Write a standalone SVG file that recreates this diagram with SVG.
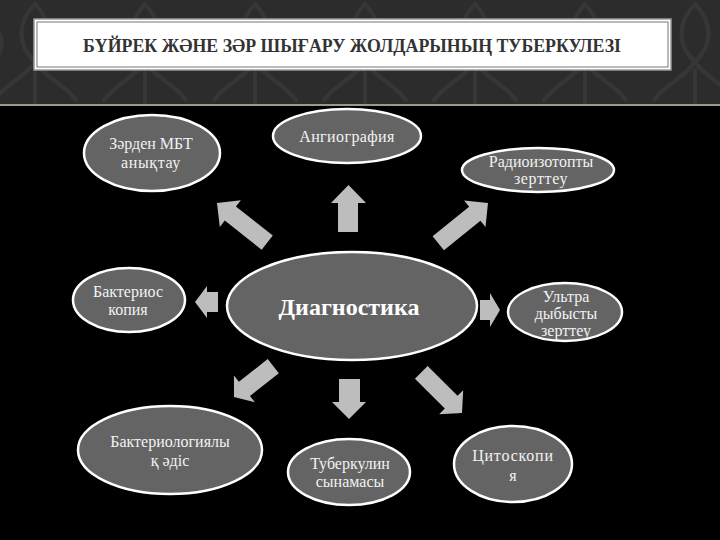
<svg xmlns="http://www.w3.org/2000/svg" width="720" height="540" viewBox="0 0 720 540">
<defs>
<pattern id="damask" x="-20" y="0" width="110" height="104" patternUnits="userSpaceOnUse">
<rect width="110" height="104" fill="#2c2c2c"/>
<path d="M55 4 C38 22 36 44 55 62 C74 44 72 22 55 4 Z M55 62 C44 78 26 84 14 100 M55 62 C66 78 84 84 96 100 M12 24 C26 36 26 54 6 64 M98 24 C84 36 84 54 104 64 M55 70 L55 104" fill="none" stroke="#363636" stroke-width="4" stroke-linecap="round"/>
</pattern>
<polygon id="arr" points="0,0 -17,-17 -17,-9 -64,-9 -64,9 -17,9 -17,17"/>
</defs>
<style>
.node ellipse{fill:#646464;stroke:#ffffff;stroke-width:2.5}
.node text{font-family:"Liberation Serif","DejaVu Serif",serif;font-size:16px;fill:#f2f2f2;text-anchor:middle}
.conn polygon,.conn use{fill:#bdbdbd}
</style>
<rect width="720" height="540" fill="#000"/>
<rect width="720" height="105" fill="url(#damask)"/>
<rect x="0" y="104" width="720" height="2" fill="#9a9a8c"/>
<g id="title">
<rect x="34" y="19" width="637" height="51" fill="#fff" stroke="#9a9a9a" stroke-width="1.5"/>
<rect x="37" y="22" width="631" height="45" fill="none" stroke="#777" stroke-width="1"/>
<text x="352" y="52" font-family="Liberation Serif, DejaVu Serif, serif" font-size="19" font-weight="bold" fill="#333" text-anchor="middle" textLength="538" lengthAdjust="spacingAndGlyphs">БҮЙРЕК ЖӘНЕ ЗӘР ШЫҒАРУ ЖОЛДАРЫНЫҢ ТУБЕРКУЛЕЗІ</text>
</g>
<g id="connectors" class="conn">
<polygon points="338,232 358,232 358,203 366,203 348.5,185 331,203 338,203"/>
<polygon points="339,379 360,379 360,402 366,402 349,419 332,402 339,402"/>
<polygon points="218,292 207,292 207,286 195,302 207,318 207,312 218,312"/>
<polygon points="480,300 490,300 490,293 500,310 490,327 490,320 480,320"/>
<use href="#arr" transform="translate(217,203) rotate(218.3)"/>
<use href="#arr" transform="translate(488,203) rotate(-39)"/>
<use href="#arr" transform="translate(234,397) rotate(141.9) scale(0.78,1)"/>
<use href="#arr" transform="translate(462,413) rotate(45) scale(0.9,1)"/>
</g>
<g id="n-diag" class="node">
<ellipse cx="352" cy="306" rx="125" ry="54"/>
<text x="349" y="315" style="font-size:24px;font-weight:bold;fill:#fff">Диагностика</text>
</g>
<g id="n-zarden" class="node">
<ellipse cx="152" cy="153" rx="68" ry="38"/>
<text x="151" y="149">Зәрден МБТ</text>
<text x="151" y="168" letter-spacing="0.6">анықтау</text>
</g>
<g id="n-angio" class="node">
<ellipse cx="347" cy="136" rx="74" ry="27"/>
<text x="347" y="142" letter-spacing="0.4">Ангиография</text>
</g>
<g id="n-radio" class="node">
<ellipse cx="538" cy="170" rx="76" ry="22"/>
<text x="541" y="167">Радиоизотопты</text>
<text x="541" y="184" letter-spacing="0.6">зерттеу</text>
</g>
<g id="n-ultra" class="node">
<ellipse cx="565" cy="312" rx="57" ry="29"/>
<text x="566" y="302">Ультра</text>
<text x="566" y="319">дыбысты</text>
<text x="566" y="336">зерттеу</text>
</g>
<g id="n-bakterioskop" class="node">
<ellipse cx="129" cy="300" rx="56" ry="32"/>
<text x="128" y="297">Бактериос</text>
<text x="128" y="315">копия</text>
</g>
<g id="n-bakteriolog" class="node">
<ellipse cx="170" cy="450" rx="92" ry="44"/>
<text x="170" y="447">Бактериологиялы</text>
<text x="170" y="466">қ әдіс</text>
</g>
<g id="n-tuberkulin" class="node">
<ellipse cx="349" cy="472" rx="61" ry="33"/>
<text x="350" y="469">Туберкулин</text>
<text x="350" y="487">сынамасы</text>
</g>
<g id="n-cito" class="node">
<ellipse cx="513" cy="464" rx="59" ry="38"/>
<text x="513" y="461" letter-spacing="0.8">Цитоскопи</text>
<text x="513" y="481">я</text>
</g>
</svg>
